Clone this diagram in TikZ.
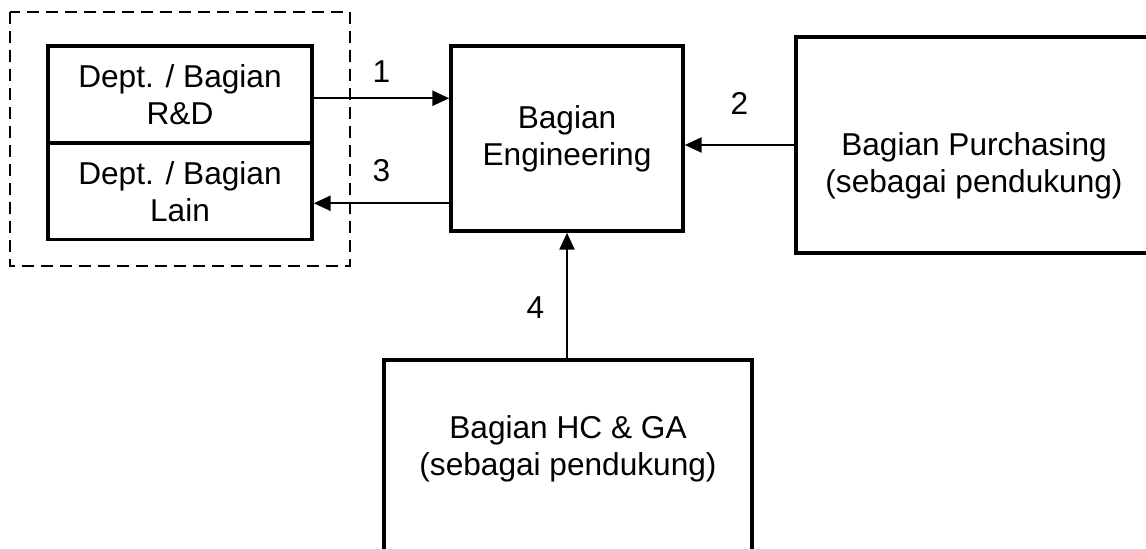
\documentclass[tikz,border=0pt]{standalone}
\usepackage{fontspec}
\setmainfont{Liberation Sans}
\usetikzlibrary{arrows.meta,positioning}

\begin{document}
\begin{tikzpicture}[
  x=0.02cm, y=-0.02cm,
  box/.style={rectangle, draw=black, line width=2pt, fill=white,
              align=center, inner sep=0pt,
              font=\fontsize{18pt}{21pt}\selectfont},
  boxtext/.style={align=center, inner sep=0pt,
                  font=\fontsize{18pt}{21pt}\selectfont},
  num/.style={inner sep=0pt, font=\fontsize{18pt}{21pt}\selectfont},
  arr/.style={-{Triangle[length=0.34cm,width=0.3cm]}, line width=1.4pt}
]
  \useasboundingbox (0,0) rectangle (1146,548);
  \clip (0,0) rectangle (1146,548);

  % Dashed group round the two departments
  \draw[line width=1.4pt, dash pattern=on 0.24cm off 0.14cm]
    (10,12) rectangle (350,266);

  % Departments
  \node[box, minimum width=5.28cm, minimum height=1.93cm] (rnd)
    at (180,94.25) {Dept. / Bagian\\R\&D};
  \node[box, minimum width=5.28cm, minimum height=1.93cm] (lain)
    at (180,191.25) {Dept. / Bagian\\Lain};

  % Engineering in the middle
  \node[box, minimum width=4.64cm, minimum height=3.7cm] (eng)
    at (567,138.5) {Bagian\\Engineering};

  % Supporting parts (cut by the page edge)
  \node[box, minimum width=7.12cm, minimum height=4.32cm] (purch)
    at (974,145) {};
  \node[boxtext] (purchtxt) at ([yshift=-0.42cm]purch.center)
    {Bagian Purchasing\\(sebagai pendukung)};
  \node[box, minimum width=7.36cm, minimum height=4cm] (hc)
    at (568,460) {};
  \node[boxtext] (hctxt) at ([yshift=0.22cm]hc.center)
    {Bagian HC \& GA\\(sebagai pendukung)};

  % Flows
  \coordinate (c1) at ([yshift=-0.08cm]rnd.east);
  \draw[arr] (c1) -- (c1 -| eng.west)
    node[num, midway, above=0.3cm] (n1) {1};
  \coordinate (c3) at ([yshift=-0.24cm]lain.east);
  \draw[arr] (c3 -| eng.west) -- (c3)
    node[num, midway, above=0.4cm] (n3) {3};
  \draw[arr] (purch.west) -- (purch.west -| eng.east)
    node[num, midway, above=0.58cm] (n2) {2};
  \draw[arr] (eng.south |- hc.north) -- (eng.south)
    node[num, pos=0.4, left=0.43cm] (n4) {4};
\end{tikzpicture}
\end{document}
